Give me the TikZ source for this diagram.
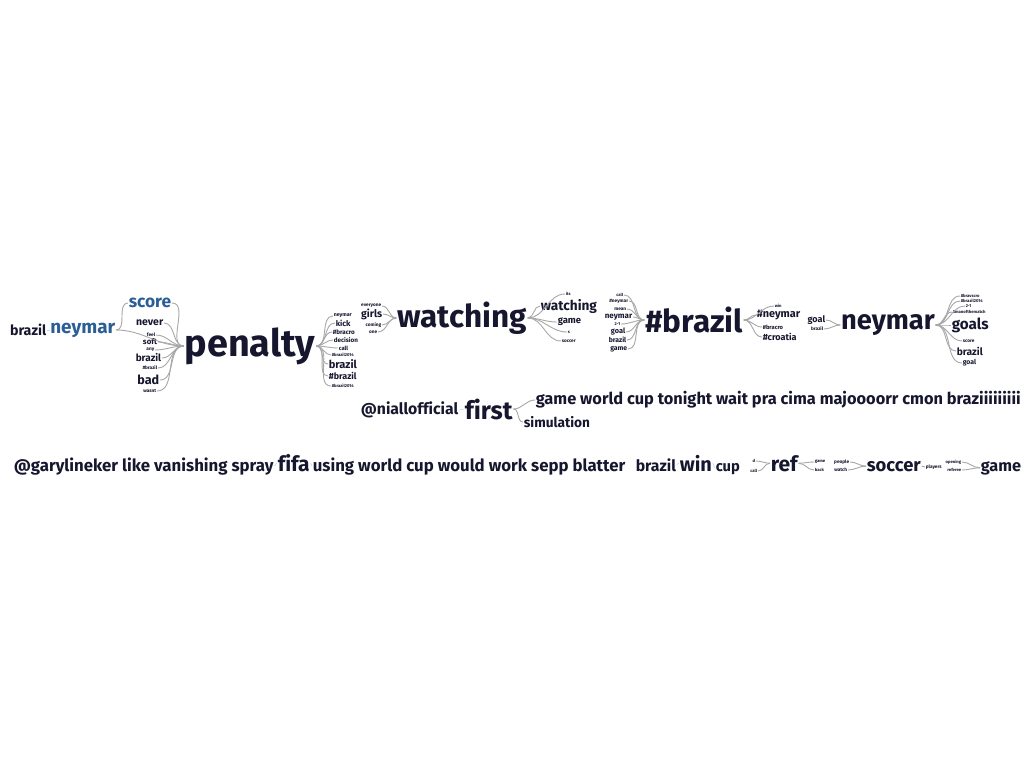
\documentclass[tikz,border=0pt]{standalone}
\usepackage{fontspec}
\setmainfont{Fira Sans}[Ligatures=NoCommon]
\definecolor{ink}{HTML}{16162E}
\definecolor{blueword}{HTML}{2B5E97}
\definecolor{linkgray}{HTML}{A8A8A8}
\definecolor{chainblue}{HTML}{B8DDF0}
\begin{document}
\begin{tikzpicture}[x=1pt,y=-1pt,
  wd/.style={inner sep=0.6pt,text=ink,font=\bfseries\pgfmathsetmacro\fsz{1.05*#1}\fontsize{\fsz}{\fsz}\selectfont},
  bl/.style={text=blueword},
  lnk/.style={draw=linkgray,line width=0.9pt},
  chainln/.style={draw=chainblue,line width=0.6pt}]
\useasboundingbox[fill=white] (0,0) rectangle (1024,768);
% penalty
\node[wd=36] (pen) at (250,346) {penalty};
\node[wd=18,bl,anchor=east] (nym) at (116,330) {neymar};
\node[wd=13.5,anchor=east] (brz) at (47,330) {brazil};
\node[wd=16.5,bl] (sco) at (150,303) {score};
\node[wd=10,anchor=east] (nev) at (164,323) {never};
\node[wd=4.5,anchor=east] (feel) at (156,335) {feel};
\node[wd=7.5,anchor=east] (soft) at (158,342) {soft};
\node[wd=4.5,anchor=east] (any) at (155,350) {any};
\node[wd=9.5,anchor=east] (brzb) at (162,358) {brazil};
\node[wd=4.5,anchor=east] (hbr) at (158,368) {\#brazil};
\node[wd=12,anchor=east] (bad) at (160,380) {bad};
\node[wd=4.5,anchor=east] (wasnt) at (157,391) {wasnt};
\draw[chainln] (brz.east) -- (nym.west);
\draw[lnk] (nym.east) to[out=0,in=180] (sco.west);
\foreach \n in {nym,sco,nev,feel,soft,any,brzb,hbr,bad,wasnt}
  \draw[lnk] (\n.east) to[out=0,in=180] (pen.west);
\node[wd=5,anchor=west] (pr1) at (333,316) {neymar};
\node[wd=7.5,anchor=west] (pr2) at (335,323) {kick};
\node[wd=6,anchor=west] (pr3) at (332,332) {\#bracro};
\node[wd=6,anchor=west] (pr4) at (333,340) {decision};
\node[wd=5.5,anchor=west] (pr5) at (338,348) {call};
\node[wd=4,anchor=west] (pr6) at (331,355) {\#brazil2014};
\node[wd=10.5,anchor=west] (pr7) at (328,364) {brazil};
\node[wd=8.5,anchor=west] (pr8) at (328,376) {\#brazil};
\node[wd=4,anchor=west] (pr9) at (331,386) {\#brazil2014};
\foreach \n in {pr1,pr2,pr3,pr4,pr5,pr6,pr7,pr8,pr9}
  \draw[lnk] (pen.east) to[out=0,in=180] (\n.west);
% watching
\node[wd=30] (wat) at (462,318) {watching};
\node[wd=4.5,anchor=east] (wl1) at (382,306) {everyone};
\node[wd=10,anchor=east] (wl2) at (383,314) {girls};
\node[wd=4.5,anchor=east] (wl3) at (382,325) {coming};
\node[wd=4.5,anchor=east] (wl4) at (378,332) {one};
\foreach \n in {wl1,wl2,wl3,wl4}
  \draw[lnk] (\n.east) to[out=0,in=180] (wat.west);
\node[wd=4,anchor=west] (wr1) at (565,294) {its};
\node[wd=13,anchor=west] (wr2) at (540,306) {watching};
\node[wd=9,anchor=west] (wr3) at (557,322) {game};
\node[wd=4,anchor=west] (wr4) at (567,332) {s};
\node[wd=4.5,anchor=west] (wr5) at (561,341) {soccer};
\foreach \n in {wr1,wr2,wr3,wr4,wr5}
  \draw[lnk] (wat.east) to[out=0,in=180] (\n.west);
% #brazil
\node[wd=30] (hb) at (694,320) {\#brazil};
\node[wd=4,anchor=east] (bl1) at (624,295) {call};
\node[wd=4.5,anchor=east] (bl2) at (629,301) {\#neymar};
\node[wd=4.5,anchor=east] (bl3) at (627,309) {mean};
\node[wd=7.6,anchor=east] (bl4) at (633,317) {neymar};
\node[wd=4,anchor=east] (bl5) at (621,324) {2-1};
\node[wd=7,anchor=east] (bl6) at (626,332) {goal};
\node[wd=6.5,anchor=east] (bl7) at (627,340) {brazil};
\node[wd=6.5,anchor=east] (bl8) at (628,349) {game};
\foreach \n in {bl1,bl2,bl3,bl4,bl5,bl6,bl7,bl8}
  \draw[lnk] (\n.east) to[out=0,in=180] (hb.west);
\node[wd=4,anchor=west] (br1) at (774,306) {win};
\node[wd=10.4,anchor=west] (br2) at (756,315) {\#neymar};
\node[wd=5.5,anchor=west] (br3) at (762,327) {\#bracro};
\node[wd=8.6,anchor=west] (br4) at (762,337) {\#croatia};
\foreach \n in {br1,br2,br3,br4}
  \draw[lnk] (hb.east) to[out=0,in=180] (\n.west);
% neymar
\node[wd=26] (ny) at (888,325) {neymar};
\node[wd=8.6,anchor=east] (nl1) at (826,320) {goal};
\node[wd=4.5,anchor=east] (nl2) at (824,329) {brazil};
\foreach \n in {nl1,nl2}
  \draw[lnk] (\n.east) to[out=0,in=180] (ny.west);
\node[wd=4,anchor=west] (nr1) at (960,296) {\#bravscro};
\node[wd=4,anchor=west] (nr2) at (960,301) {\#brazil2014};
\node[wd=4,anchor=west] (nr3) at (965,306) {2-1};
\node[wd=4,anchor=west] (nr4) at (952,312) {\#manofthematch};
\node[wd=14.5,anchor=west] (nr5) at (951,325) {goals};
\node[wd=4.5,anchor=west] (nr6) at (962,341) {score};
\node[wd=9.7,anchor=west] (nr7) at (956,351) {brazil};
\node[wd=6.5,anchor=west] (nr8) at (962,363) {goal};
\foreach \n in {nr1,nr2,nr3,nr4,nr5,nr6,nr7,nr8}
  \draw[lnk] (ny.east) to[out=0,in=180] (\n.west);
% first
\node[wd=15,anchor=east] (nia) at (459,410) {@niallofficial};
\node[wd=24,anchor=west] (fst) at (464,409) {first};
\node[wd=15.6,anchor=west] (gwc) at (535,400) {game world cup tonight wait pra cima majoooorr cmon braziiiiiiiii};
\node[wd=13,anchor=west] (sim) at (523,422) {simulation};
\draw[chainln] (nia.east) -- (fst.west);
\draw[lnk] (fst.east) to[out=0,in=180] (gwc.west);
\draw[lnk] (fst.east) to[out=0,in=180] (sim.west);
% bottom row
\node[wd=16,anchor=base west] (gl1) at (13,471) {@garylineker like vanishing spray};
\node[wd=20,anchor=base west] (gl2) at (277,471) {fifa};
\node[wd=16,anchor=base west] (gl3) at (312,471) {using world cup would work sepp blatter};
\draw[chainln] (gl1.east) -- (gl2.west);
\draw[chainln] (gl2.east) -- (gl3.west);
\node[wd=15,anchor=base west] (wn1) at (635,471) {brazil};
\node[wd=19,anchor=base west] (wn2) at (679,471) {win};
\node[wd=14,anchor=base west] (wn3) at (715,471) {cup};
\draw[chainln] (wn1.east) -- (wn2.west);
\draw[chainln] (wn2.east) -- (wn3.west);
\node[wd=20,anchor=base west] (ref) at (770,471) {ref};
\node[wd=4,anchor=east] (rl1) at (756,461) {d};
\node[wd=4,anchor=east] (rl2) at (758,471) {call};
\node[wd=4,anchor=west] (rr1) at (814,462) {game};
\node[wd=4,anchor=west] (rr2) at (814,470) {back};
\foreach \n in {rl1,rl2}
  \draw[lnk] (\n.east) to[out=0,in=180] (ref.west);
\foreach \n in {rr1,rr2}
  \draw[lnk] (ref.east) to[out=0,in=180] (\n.west);
\node[wd=17.5,anchor=base west] (soc) at (866,471) {soccer};
\node[wd=4.5,anchor=east] (sl1) at (850,462) {people};
\node[wd=4.5,anchor=east] (sl2) at (848,470) {watch};
\node[wd=4.5,anchor=west] (sr1) at (925,467) {players};
\foreach \n in {sl1,sl2}
  \draw[lnk] (\n.east) to[out=0,in=180] (soc.west);
\draw[lnk] (soc.east) to[out=0,in=180] (sr1.west);
\node[wd=15.5,anchor=base west] (gam) at (980,471) {game};
\node[wd=4,anchor=east] (gl4) at (962,462) {opening};
\node[wd=4,anchor=east] (gl5) at (962,470) {referee};
\foreach \n in {gl4,gl5}
  \draw[lnk] (\n.east) to[out=0,in=180] (gam.west);
\end{tikzpicture}
\end{document}
